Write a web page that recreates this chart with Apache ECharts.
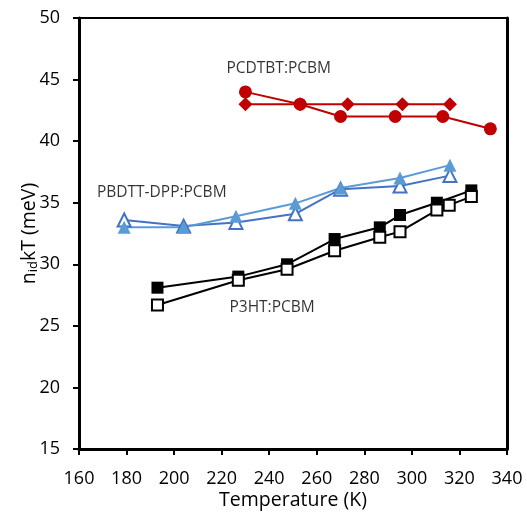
<!DOCTYPE html>
<html>
<head>
<meta charset="utf-8">
<script src="https://cdn.jsdelivr.net/npm/echarts@6/dist/echarts.min.js"></script>
<style>html,body{margin:0;padding:0;background:#fff}#c{width:527px;height:513px}</style>
</head>
<body>
<div id="c"></div>
<script>
// PCDTBT:PCBM
var pcdtbtDiamondT = [230, 253, 273, 296, 316];
var pcdtbtDiamondV = [43.0, 43.0, 43.0, 43.0, 43.0];
var pcdtbtCircleT = [230, 253, 270, 293, 313, 333];
var pcdtbtCircleV = [44.0, 43.0, 42.0, 42.0, 42.0, 41.0];
// PBDTT-DPP:PCBM
var pbdttOpenT = [179, 204, 226, 251, 270, 295, 316];
var pbdttOpenV = [33.6, 33.1, 33.4, 34.1, 36.1, 36.35, 37.2];
var pbdttFillT = [179, 204, 226, 251, 270, 295, 316];
var pbdttFillV = [33.0, 33.0, 33.9, 34.95, 36.2, 37.0, 38.05];
// P3HT:PCBM
var p3htFillT = [193, 227, 247.5, 267.5, 286.5, 295, 310.5, 325];
var p3htFillV = [28.1, 29.0, 30.0, 32.05, 33.0, 34.0, 35.0, 36.0];
var p3htOpenT = [193, 227, 247.5, 267.5, 286.5, 295, 310.5, 315.7, 325];
var p3htOpenV = [26.7, 28.7, 29.6, 31.1, 32.2, 32.65, 34.4, 34.8, 35.5];
// labels (data coordinates)
var labelNames = ['PCDTBT:PCBM', 'PBDTT-DPP:PCBM', 'P3HT:PCBM'];
var labelT = [244, 194.8, 241.2];
var labelV = [45.9, 35.8, 26.45];
// axes
var xMin = 160, xMax = 340, xStep = 20;
var yMin = 15, yMax = 50, yStep = 5;

function pairs(xs, ys) { return xs.map(function (x, i) { return [x, ys[i]]; }); }

var FONT = 'Open Sans';
var chart = echarts.init(document.getElementById('c'), null, { renderer: 'canvas' });

function lineSeries(name, xs, ys, symbol, size, color, open) {
  return {
    name: name, type: 'line', data: pairs(xs, ys),
    symbol: symbol, symbolSize: size, showSymbol: true,
    lineStyle: { color: color, width: 2 },
    itemStyle: open ? { color: '#fff', borderColor: color, borderWidth: 2 } : { color: color, borderWidth: 0 },
    z: 3, animation: false
  };
}

var labelData = labelNames.map(function (n, i) { return { value: [labelT[i], labelV[i]], name: n }; });

chart.setOption({
  animation: false,
  backgroundColor: '#fff',
  grid: { left: 79, right: 20, top: 18, bottom: 64, show: true, borderColor: '#000', borderWidth: 2,
    backgroundColor: 'transparent', containLabel: false, outerBoundsMode: 'none' },
  xAxis: {
    type: 'value', min: xMin, max: xMax, interval: xStep,
    name: 'Temperature (K)', nameLocation: 'middle', nameGap: 41, nameMoveOverlap: false,
    nameTextStyle: { fontFamily: FONT, fontSize: 19.5, color: '#000' },
    axisLine: { show: true, lineStyle: { color: '#000', width: 3 } },
    axisTick: { show: true, inside: false, length: 6, lineStyle: { color: '#000', width: 2 } },
    axisLabel: { fontFamily: FONT, fontSize: 18, color: '#000', margin: 21 },
    splitLine: { show: false }
  },
  yAxis: [{
    type: 'value', min: yMin, max: yMax, interval: yStep,
    name: 'n{sub|id}kT (meV)', nameLocation: 'middle', nameGap: 39, nameRotate: 90, nameMoveOverlap: false,
    nameTextStyle: { fontFamily: FONT, fontSize: 19.5, color: '#000',
      rich: { sub: { fontFamily: FONT, fontSize: 13, color: '#000', padding: [9, 0, 0, 0] } } },
    axisLine: { show: true, lineStyle: { color: '#000', width: 3 } },
    axisTick: { show: true, inside: false, length: 6, lineStyle: { color: '#000', width: 2 } },
    axisLabel: { fontFamily: FONT, fontSize: 18, color: '#000', margin: 19 },
    splitLine: { show: false }
  }, {
    type: 'value', min: yMin, max: yMax, interval: yStep, position: 'right',
    axisLine: { show: true, lineStyle: { color: '#000', width: 3 } },
    axisTick: { show: false }, axisLabel: { show: false }, splitLine: { show: false }
  }],
  series: [
    lineSeries('PCDTBT diamonds', pcdtbtDiamondT, pcdtbtDiamondV, 'diamond', 14, '#C00000', false),
    lineSeries('PCDTBT circles', pcdtbtCircleT, pcdtbtCircleV, 'circle', 13, '#C00000', false),
    lineSeries('PBDTT open', pbdttOpenT, pbdttOpenV, 'triangle', 13, '#4472C4', true),
    lineSeries('PBDTT filled', pbdttFillT, pbdttFillV, 'triangle', 13, '#5B9BD5', false),
    lineSeries('P3HT filled', p3htFillT, p3htFillV, 'rect', 12, '#000000', false),
    lineSeries('P3HT open', p3htOpenT, p3htOpenV, 'rect', 11, '#000000', true),
    {
      type: 'scatter', data: labelData, symbolSize: 0, silent: true, z: 5,
      label: { show: true, position: 'inside', formatter: function (p) { return p.name; },
        fontFamily: FONT, fontSize: 15.5, color: '#000', textBorderWidth: 0 }
    }
  ]
});
</script>
</body>
</html>
